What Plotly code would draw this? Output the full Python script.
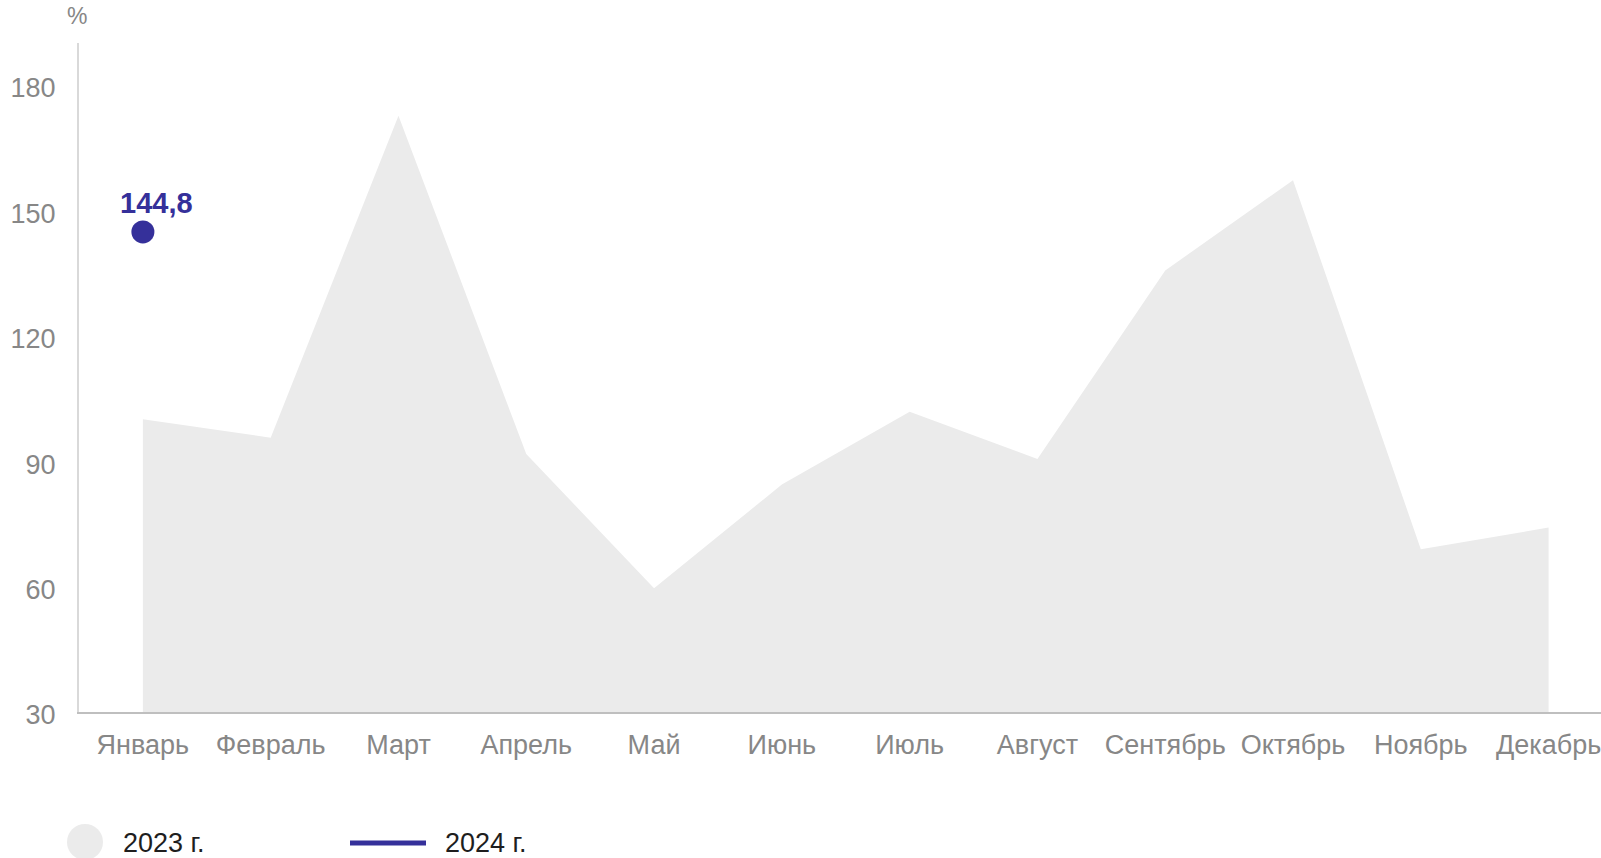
import plotly.graph_objects as go

months = ["Январь", "Февраль", "Март", "Апрель", "Май", "Июнь", "Июль",
          "Август", "Сентябрь", "Октябрь", "Ноябрь", "Декабрь"]
values_2023 = [100.0, 95.6, 172.6, 91.7, 59.6, 84.4, 101.8, 90.5, 135.6, 157.2, 68.9, 74.1]
months_2024 = ["Январь"]
values_2024 = [144.8]
labels_2024 = ["144,8"]
y_ticks = [30, 60, 90, 120, 150, 180]

FONT = "Liberation Sans, Arial, sans-serif"
GREY_TXT = "#878787"
BLUE = "#35309a"
AREA = "#ebebeb"

W, H = 1601, 858
L, T, B, R = 79, 43, 146, 0

fig = go.Figure()
fig.add_trace(go.Scatter(
    x=months, y=values_2023, mode="lines", fill="tozeroy",
    fillcolor=AREA, line=dict(width=0, color=AREA), name="2023 г.",
    showlegend=False, hoverinfo="skip"))
fig.add_trace(go.Scatter(
    x=months_2024, y=values_2024, mode="markers+lines",
    marker=dict(size=23, color=BLUE), line=dict(color=BLUE, width=4),
    name="2024 г.", showlegend=False))

for m, v, t in zip(months_2024, values_2024, labels_2024):
    fig.add_annotation(x=m, y=v, text=f"<b>{t}</b>", showarrow=False,
                       xanchor="center", yanchor="bottom", xshift=14, yshift=11,
                       font=dict(family=FONT, size=29, color=BLUE))

fig.update_layout(
    width=W, height=H,
    margin=dict(l=L, r=R, t=T, b=B),
    plot_bgcolor="white", paper_bgcolor="white",
    font=dict(family=FONT, size=27, color=GREY_TXT),
    xaxis=dict(type="category", categoryorder="array", categoryarray=months,
               range=[-0.5, 11.41], showgrid=False, zeroline=False,
               showline=True, linecolor="#bfbfbf", linewidth=2,
               ticks="", ticklabelstandoff=8,
               tickfont=dict(family=FONT, size=27, color=GREY_TXT)),
    yaxis=dict(range=[30, 190], tickvals=y_ticks, showgrid=False, zeroline=False,
               showline=True, linecolor="#d9d9d9", linewidth=2, ticks="",
               ticklabelstandoff=16, ticklabelshift=3,
               tickfont=dict(family=FONT, size=27, color=GREY_TXT)),
    showlegend=False,
)

pw, ph = W - L - R, H - T - B
def px_x(x):
    return (x - L) / pw
def px_y(y):
    return (H - B - y) / ph

# "%" unit label
fig.add_annotation(xref="paper", yref="paper", x=px_x(77), y=px_y(16),
                   text="%", showarrow=False, xanchor="center", yanchor="middle",
                   font=dict(family=FONT, size=23, color=GREY_TXT))

# Manual legend
fig.add_shape(type="circle", xref="paper", yref="paper",
              x0=px_x(67), x1=px_x(103), y0=px_y(860), y1=px_y(824),
              fillcolor=AREA, line=dict(width=0))
fig.add_annotation(xref="paper", yref="paper", x=px_x(121), y=px_y(843),
                   text="2023 г.", showarrow=False, xanchor="left", yanchor="middle",
                   font=dict(family=FONT, size=27, color="#1e1e1e"))
fig.add_shape(type="line", xref="paper", yref="paper",
              x0=px_x(350), x1=px_x(426), y0=px_y(843), y1=px_y(843),
              line=dict(color=BLUE, width=5))
fig.add_annotation(xref="paper", yref="paper", x=px_x(443), y=px_y(843),
                   text="2024 г.", showarrow=False, xanchor="left", yanchor="middle",
                   font=dict(family=FONT, size=27, color="#1e1e1e"))

fig.write_html("out.html", config={"displayModeBar": False},
               post_script="document.body.style.margin='0';document.body.style.overflow='hidden';")
